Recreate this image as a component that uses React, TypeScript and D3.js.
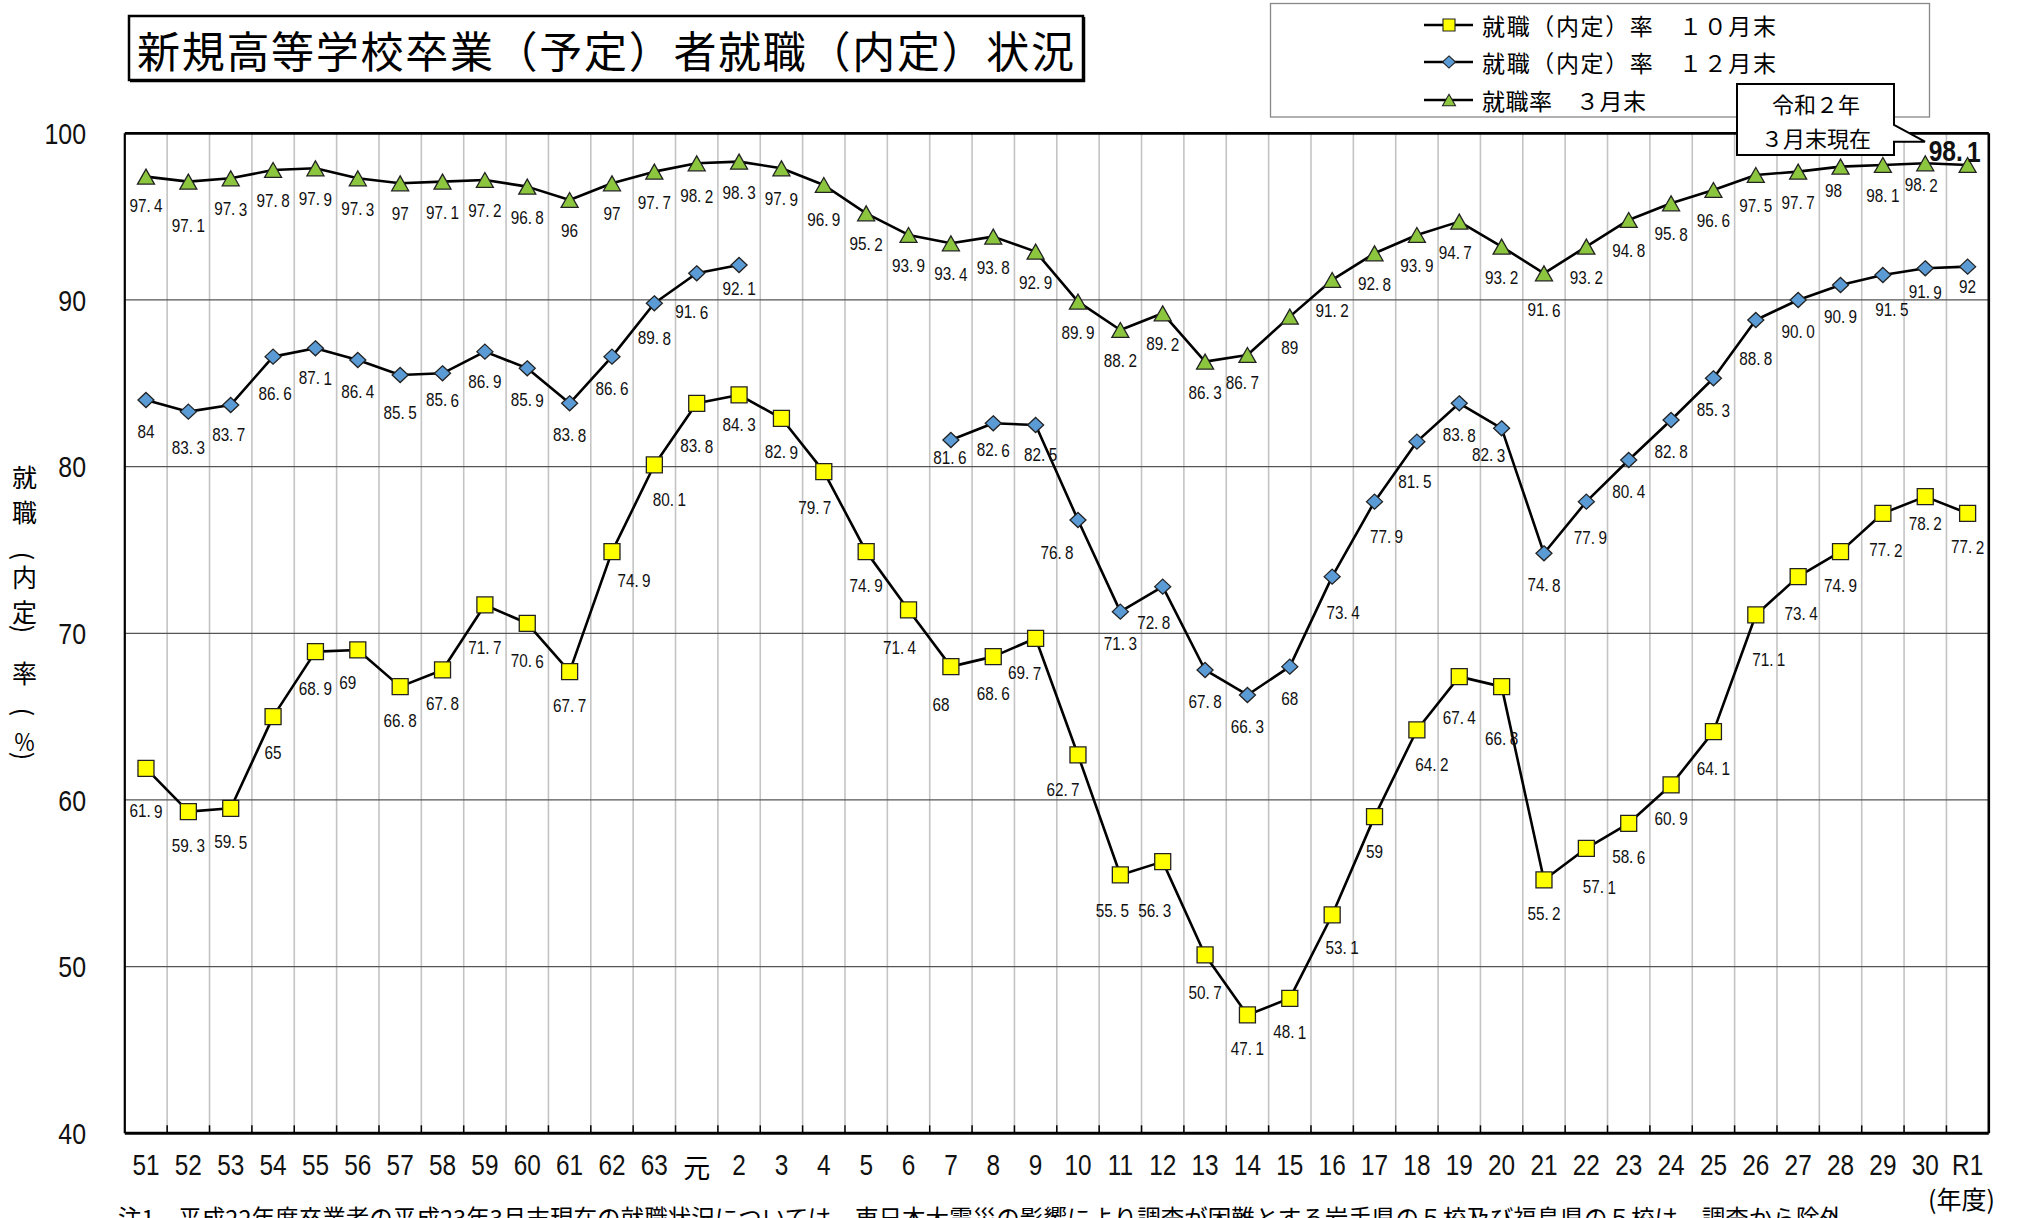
import React from 'react';
import * as d3 from 'd3';

// ---------- data ----------
const categories = ['51','52','53','54','55','56','57','58','59','60','61','62','63','元','2','3','4','5','6','7','8','9','10','11','12','13','14','15','16','17','18','19','20','21','22','23','24','25','26','27','28','29','30','R1'];

// 就職（内定）率 10月末
const rateOct: (number | null)[] = [61.9,59.3,59.5,65,68.9,69,66.8,67.8,71.7,70.6,67.7,74.9,80.1,83.8,84.3,82.9,79.7,74.9,71.4,68,68.6,69.7,62.7,55.5,56.3,50.7,47.1,48.1,53.1,59,64.2,67.4,66.8,55.2,57.1,58.6,60.9,64.1,71.1,73.4,74.9,77.2,78.2,77.2];
// 就職（内定）率 12月末
const rateDec: (number | null)[] = [84,83.3,83.7,86.6,87.1,86.4,85.5,85.6,86.9,85.9,83.8,86.6,89.8,91.6,92.1,null,null,null,null,81.6,82.6,82.5,76.8,71.3,72.8,67.8,66.3,68,73.4,77.9,81.5,83.8,82.3,74.8,77.9,80.4,82.8,85.3,88.8,90.0,90.9,91.5,91.9,92];
// 就職率 3月末
const rateMar: (number | null)[] = [97.4,97.1,97.3,97.8,97.9,97.3,97,97.1,97.2,96.8,96,97,97.7,98.2,98.3,97.9,96.9,95.2,93.9,93.4,93.8,92.9,89.9,88.2,89.2,86.3,86.7,89,91.2,92.8,93.9,94.7,93.2,91.6,93.2,94.8,95.8,96.6,97.5,97.7,98,98.1,98.2,98.1];

const yTicks = [40,50,60,70,80,90,100];
const seriesNames = ['就職（内定）率　１０月末','就職（内定）率　１２月末','就職率　３月末'];
const titleText = '新規高等学校卒業（予定）者就職（内定）状況';
const calloutLines = ['令和２年','３月末現在'];
const footnote = '注1　平成22年度卒業者の平成23年3月末現在の就職状況については、東日本大震災の影響により調査が困難とする岩手県の５校及び福島県の５校は、調査から除外';
const decLabelOverride: Record<string, string> = { '27': '90.0' };

// label placement (layout only): default offset + exceptions [dx, dy]
const labelOffOct: Record<string, [number, number]> = {
  '51':[0,43],'54':[0,36],'55':[0,37],'56':[-10,33],'59':[0,43],'60':[0,38],'62':[22,29],'63':[15,35],'元':[0,43],'2':[0,30],
  '4':[-9,36],'6':[-9,38],'7':[-10,38],'8':[0,37],'9':[-11,35],'10':[-15,35],'11':[-8,36],'12':[-8,49],'13':[0,38],
  '16':[10,33],'17':[0,35],'18':[15,35],'19':[0,41],'20':[0,52],'22':[13,39],'25':[0,37],'26':[13,45],'27':[3,37],'29':[3,37],'30':[0,27],
};
const labelOffDec: Record<string, [number, number]> = {
  '52':[0,36],'53':[-2,30],'54':[2,37],'55':[0,30],'57':[0,38],'58':[0,27],'59':[0,30],'63':[0,35],'元':[-5,39],'2':[0,24],
  '7':[-1,18],'8':[0,27],'9':[5,30],'10':[-21,33],'12':[-9,36],'16':[11,36],'17':[12,35],'18':[-2,40],'20':[-13,27],
  '22':[4,36],'26':[0,39],'29':[9,35],'30':[0,24],'R1':[0,20],
};
const labelOffMar: Record<string, [number, number]> = {
  '51':[0,29],'52':[0,44],'4':[0,35],'21':[0,37],'14':[-5,28],'19':[-4,31],'28':[-7,24],'30':[-4,22],'元':[0,33],
};

// ---------- layout ----------
const W = 2017, H = 1218;
const P = { left: 124.8, right: 1988.8, top: 133.3, bottom: 1133.3 };
const NUM = "'Liberation Sans', Arial, sans-serif";
const JP = "'Noto Sans CJK JP', 'Noto Sans CJK SC', sans-serif";

const x = d3.scaleBand<string>().domain(categories).range([P.left, P.right]).paddingInner(0).paddingOuter(0);
const cx = (i: number) => (x(categories[i]) as number) + x.bandwidth() / 2;
const y = d3.scaleLinear().domain([40, 100]).range([P.bottom, P.top]);

type Kind = 'square' | 'diamond' | 'triangle';
const markerPath = (k: Kind, s: number) => {
  if (k === 'square') return `M${-s},${-s}H${s}V${s}H${-s}Z`;
  if (k === 'diamond') return `M0,${-s * 0.94}L${s},0L0,${s * 0.94}L${-s},0Z`;
  return `M0,${-s * 0.88}L${s},${s * 0.88}L${-s},${s * 0.88}Z`;
};

const series = [
  { name: seriesNames[0], values: rateOct, kind: 'square' as Kind, size: 8, fill: '#FFFF00', def: [0, 34] as [number, number], off: labelOffOct, override: {} as Record<string, string> },
  { name: seriesNames[1], values: rateDec, kind: 'diamond' as Kind, size: 8, fill: '#5B9BD5', def: [0, 32] as [number, number], off: labelOffDec, override: decLabelOverride },
  { name: seriesNames[2], values: rateMar, kind: 'triangle' as Kind, size: 8.5, fill: '#8CC63E', def: [0, 31] as [number, number], off: labelOffMar, override: {} as Record<string, string> },
];

function NumText({ x: lx, y: ly, text, size, sx = 0.85, anchor = 'middle', bold = false, baseline = 'central', gap = 0 }:
  { x: number; y: number; text: string; size: number; sx?: number; anchor?: string; bold?: boolean; baseline?: string; gap?: number }) {
  const parts = text.split('.');
  return (
    <text transform={`translate(${lx},${ly}) scale(${sx},1)`} textAnchor={anchor} dominantBaseline={baseline}
      fontFamily={NUM} fontSize={size} fontWeight={bold ? 'bold' : 'normal'} fill="#111">
      {parts[0]}
      {parts.length > 1 ? '.' : ''}
      {parts.length > 1 ? <tspan dx={gap}>{parts[1]}</tspan> : null}
    </text>
  );
}

export default function App() {
  const line = d3.line<number | null>()
    .defined((v) => v != null)
    .x((_, i) => cx(i))
    .y((v) => y(v as number));

  const boundaries = d3.range(1, categories.length).map((i) => x(categories[i]) as number);
  const lastIdx = categories.length - 1;

  // y-axis title glyphs (vertical)
  const yTitle: { ch: string; cy: number; rot?: boolean; size?: number }[] = [
    { ch: '就', cy: 476 }, { ch: '職', cy: 511 }, { ch: '(', cy: 556, rot: true }, { ch: '内', cy: 576 },
    { ch: '定', cy: 611 }, { ch: ')', cy: 629, rot: true }, { ch: '率', cy: 672 }, { ch: '(', cy: 712, rot: true },
    { ch: '％', cy: 740, size: 22 }, { ch: ')', cy: 756, rot: true },
  ];

  return (
    <svg width={W} height={H} viewBox={`0 0 ${W} ${H}`} style={{ position: 'absolute', left: 0, top: 0, background: '#fff' }}>
      <rect x={0} y={0} width={W} height={H} fill="#fff" />

      {/* title */}
      <rect x={129} y={16} width={954} height={64} fill="#fff" stroke="#000" strokeWidth={2.5} />
      <line x1={1084.5} x2={1084.5} y1={17} y2={82} stroke="#000" strokeWidth={1.5} />
      <line x1={130} x2={1085} y1={81.5} y2={81.5} stroke="#000" strokeWidth={1.5} />
      <text x={137} y={49} dominantBaseline="central" fontFamily={JP} fontSize={43} textLength={937} lengthAdjust="spacing" fill="#000">{titleText}</text>

      {/* gridlines */}
      {boundaries.map((bx, i) => (
        <line key={'v' + i} x1={bx} x2={bx} y1={P.top} y2={P.bottom} stroke="#c4c4c4" strokeWidth={1.6} />
      ))}
      {yTicks.filter((t) => t > 40 && t < 100).map((t) => (
        <line key={'h' + t} x1={P.left} x2={P.right} y1={y(t)} y2={y(t)} stroke="#555" strokeWidth={1.3} />
      ))}
      {boundaries.map((bx, i) => (
        <line key={'tk' + i} x1={bx} x2={bx} y1={P.bottom} y2={P.bottom - 8} stroke="#000" strokeWidth={1.5} />
      ))}

      {/* series lines */}
      {series.map((s, si) => (
        <path key={'l' + si} d={line(s.values) || ''} fill="none" stroke="#000" strokeWidth={2.6} strokeLinejoin="round" />
      ))}
      {/* markers */}
      {series.map((s, si) => (
        <g key={'m' + si}>
          {s.values.map((v, i) => v == null ? null : (
            <path key={i} d={markerPath(s.kind, s.size)} transform={`translate(${cx(i)},${y(v)})`} fill={s.fill} stroke="#222" strokeWidth={1.3} />
          ))}
        </g>
      ))}
      {/* data labels */}
      {series.map((s, si) => (
        <g key={'t' + si}>
          {s.values.map((v, i) => {
            if (v == null) return null;
            const cat = categories[i];
            if (si === 2 && i === lastIdx) return null;
            const [dx, dy] = s.off[cat] || s.def;
            const txt = s.override[cat] || String(v);
            return <NumText key={i} x={cx(i) + dx} y={y(v) + dy} text={txt} size={18} sx={0.85} gap={4} />;
          })}
        </g>
      ))}

      {/* plot border */}
      <line x1={P.left} x2={P.left} y1={P.top} y2={P.bottom} stroke="#000" strokeWidth={2.2} />
      <line x1={P.right} x2={P.right} y1={P.top} y2={P.bottom} stroke="#000" strokeWidth={2.6} />
      <line x1={P.left} x2={P.right} y1={P.top} y2={P.top} stroke="#000" strokeWidth={2.8} />
      <line x1={P.left} x2={P.right} y1={P.bottom} y2={P.bottom} stroke="#000" strokeWidth={3} />

      {/* y ticks */}
      {yTicks.map((t) => (
        <NumText key={'yt' + t} x={86} y={y(t) + 1} text={String(t)} size={29} sx={0.86} anchor="end" />
      ))}
      {/* x ticks */}
      {categories.map((c, i) => (
        c === '元'
          ? <text key={'xt' + i} x={cx(i)} y={1178} textAnchor="middle" fontFamily={JP} fontSize={27} fill="#000">{c}</text>
          : <NumText key={'xt' + i} x={cx(i)} y={1175} text={c} size={29} sx={0.84} baseline="alphabetic" />
      ))}
      <text x={1995} y={1209} textAnchor="end" fontFamily={JP} fontSize={25} fill="#000">(年度)</text>

      {/* y-axis title */}
      {yTitle.map((g, i) => (
        <text key={'ya' + i} x={0} y={0} transform={`translate(24.5,${g.cy})${g.rot ? ' rotate(90)' : ''}`} textAnchor="middle" dominantBaseline="central" fontFamily={JP} fontSize={g.size || 25} fill="#000">{g.ch}</text>
      ))}

      {/* legend */}
      <rect x={1270.5} y={3.5} width={659} height={113.5} fill="#fff" stroke="#888" strokeWidth={1.3} />
      {series.map((s, si) => {
        const ly = [25, 62, 100][si];
        return (
          <g key={'lg' + si}>
            <line x1={1424} x2={1473} y1={ly} y2={ly} stroke="#000" strokeWidth={2.6} />
            <path d={markerPath(s.kind, s.kind === 'square' ? 6 : 6.5)} transform={`translate(1449,${ly})`} fill={s.fill} stroke="#222" strokeWidth={1.1} />
            <text x={1482} y={ly} dominantBaseline="central" fontFamily={JP} fontSize={23} textLength={si < 2 ? 294 : 164} lengthAdjust="spacing" fill="#000">{s.name}</text>
          </g>
        );
      })}

      {/* callout */}
      <path d="M1737,84H1894V125L1925,141.7H1894V155H1737Z" fill="#fff" stroke="#000" strokeWidth={2} strokeLinejoin="miter" />
      {calloutLines.map((t, i) => (
        <text key={'co' + i} x={1816} y={[103, 137][i]} textAnchor="middle" dominantBaseline="central" fontFamily={JP} fontSize={22} fill="#000">{t}</text>
      ))}
      {rateMar[lastIdx] != null && (
        <NumText x={cx(lastIdx) - 13} y={y(rateMar[lastIdx] as number) - 14} text={String(rateMar[lastIdx])} size={30} sx={0.82} bold gap={5} />
      )}

      {/* footnote */}
      <text x={118} y={1227} fontFamily={JP} fontSize={23.5} textLength={1725} lengthAdjust="spacing" fill="#000">{footnote}</text>
    </svg>
  );
}
